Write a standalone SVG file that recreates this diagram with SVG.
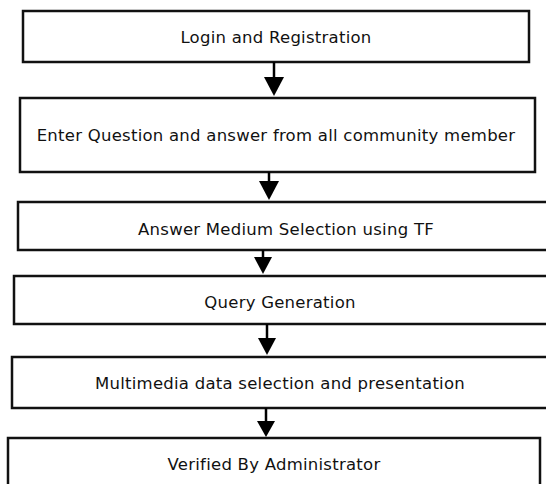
<svg xmlns="http://www.w3.org/2000/svg" width="546" height="484" viewBox="0 0 546 484">
<style>
.box{fill:#fff;stroke:#111;stroke-width:2.5}
.lbl{font-family:"DejaVu Sans",sans-serif;font-size:16.5px;letter-spacing:0.25px;fill:#111;text-anchor:middle}
.conn{stroke:#000;stroke-width:2.5;fill:none}
.head{fill:#000}
</style>
<rect width="546" height="484" fill="#fff"/>
<g id="n1"><rect class="box" x="23" y="11" width="506" height="51"/><text class="lbl" x="276" y="43">Login and Registration</text></g>
<g id="n2"><rect class="box" x="20" y="98" width="515" height="74"/><text class="lbl" x="276" y="141">Enter Question and answer from all community member</text></g>
<g id="n3"><rect class="box" x="18" y="202" width="536" height="48"/><text class="lbl" x="286" y="235">Answer Medium Selection using TF</text></g>
<g id="n4"><rect class="box" x="14" y="276" width="534" height="48"/><text class="lbl" x="280" y="308">Query Generation</text></g>
<g id="n5"><rect class="box" x="12" y="357" width="536" height="51"/><text class="lbl" x="280" y="389">Multimedia data selection and presentation</text></g>
<g id="n6"><rect class="box" x="8" y="438" width="532" height="60"/><text class="lbl" x="274" y="470">Verified By Administrator</text></g>
<g id="connectors">
<line class="conn" x1="274" y1="62" x2="274" y2="80"/><polygon class="head" points="264,77 284,77 274,96"/>
<line class="conn" x1="269" y1="172" x2="269" y2="184"/><polygon class="head" points="259,181 279,181 269,200"/>
<line class="conn" x1="263" y1="250" x2="263" y2="260"/><polygon class="head" points="254,257 272,257 263,274"/>
<line class="conn" x1="267" y1="324" x2="267" y2="341"/><polygon class="head" points="258,338 276,338 267,355"/>
<line class="conn" x1="266" y1="408" x2="266" y2="424"/><polygon class="head" points="257,421 275,421 266,437"/>
</g>
</svg>
